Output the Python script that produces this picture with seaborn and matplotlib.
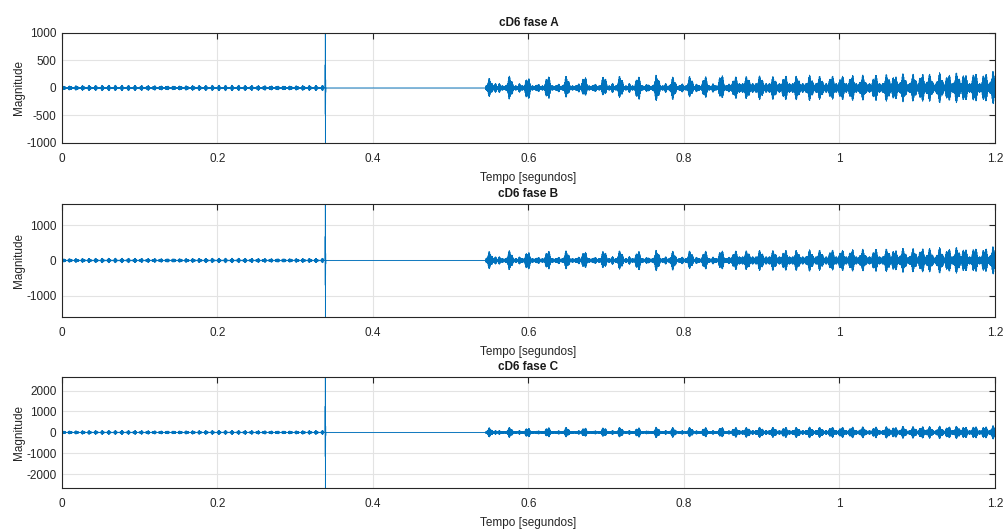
import numpy as np
import seaborn as sns
import matplotlib.pyplot as plt

# amostragem usada para redesenhar o sinal
fs = 12000
t_end = 1.2
carrier_hz = 1500
ripple_hz = 233
ripple_depth = 0.22

# regioes (segundos)
pre_end = 0.336
pre_period = 1 / 120
spike_time = 0.3385
post_start = 0.545
floor_split = 0.86

# amplitude dos pulsos antes da falta
pre_amp = {'A': 50, 'B': 65, 'C': 95}
# nivel de fundo entre os pulsos depois da falta (antes / depois de 0.86 s)
floor_early = {'A': 40, 'B': 55, 'C': 50}
floor_late = {'A': 80, 'B': 105, 'C': 90}

# amostras do transitorio em 0.3385 s
spike_A = [0, 420, -480, 1500, -1450, 380, -300, 150, -80, 0]
spike_B = [0, 680, -700, 1900, -1850, 560, -420, 200, -100, 0]
spike_C = [0, 1250, -1150, 3000, -2900, 900, -700, 300, -150, 0]

# centros dos pulsos principais depois de 0.545 s
burst_times = [0.550, 0.576, 0.599, 0.625, 0.649, 0.672, 0.697, 0.718, 0.741, 0.765,
               0.786, 0.808, 0.827, 0.848, 0.866, 0.881, 0.898, 0.915, 0.930, 0.945,
               0.962, 0.975, 0.990, 1.003, 1.016, 1.030, 1.046, 1.061, 1.071, 1.082,
               1.095, 1.106, 1.116, 1.129, 1.140, 1.151, 1.161, 1.174, 1.187, 1.198]

pos_A = [180, 225, 205, 235, 225, 225, 235, 235, 225, 250, 205, 225, 225, 265, 210, 220,
         230, 215, 235, 225, 240, 220, 235, 230, 245, 235, 250, 255, 240, 265, 255, 270,
         250, 280, 260, 285, 275, 300, 290, 310]
neg_A = [160, 215, 230, 220, 175, 160, 150, 190, 235, 245, 215, 175, 190, 215, 200, 210,
         225, 215, 230, 220, 235, 215, 225, 230, 240, 225, 245, 250, 235, 255, 245, 260,
         245, 270, 255, 275, 265, 280, 275, 290]

pos_B = [260, 290, 270, 300, 290, 280, 300, 300, 290, 310, 270, 290, 290, 320, 280, 290,
         300, 290, 310, 300, 310, 300, 320, 310, 330, 320, 340, 340, 330, 350, 345, 360,
         340, 370, 355, 380, 365, 390, 380, 400]
neg_B = [240, 280, 290, 280, 250, 240, 240, 270, 300, 310, 280, 250, 270, 290, 270, 280,
         300, 290, 300, 290, 310, 290, 300, 310, 320, 300, 330, 330, 320, 340, 330, 350,
         330, 360, 345, 370, 355, 370, 365, 390]

pos_C = [230, 250, 240, 260, 250, 245, 255, 260, 250, 270, 240, 255, 255, 275, 245, 250,
         260, 250, 265, 255, 265, 255, 270, 265, 275, 270, 280, 285, 275, 290, 285, 295,
         285, 305, 295, 310, 300, 320, 310, 330]
neg_C = [220, 245, 250, 245, 225, 215, 215, 235, 255, 265, 240, 225, 235, 250, 240, 245,
         255, 245, 260, 250, 260, 250, 260, 260, 270, 260, 275, 280, 270, 285, 280, 290,
         280, 300, 290, 305, 295, 310, 305, 320]

# largura de cada pulso (segundos)
burst_width = [0.0026] * 14 + [0.0030] * 26

# pulsos menores entre os principais
minor_times = [0.557, 0.563, 0.589, 0.612, 0.638, 0.664, 0.685, 0.708, 0.730, 0.753,
               0.776, 0.797, 0.817, 0.838, 0.857]
minor_amp = {'A': 85, 'B': 110, 'C': 95}
minor_width = 0.0020

y_limits = {'A': 1000, 'B': 1600, 'C': 2650}
y_ticks = {'A': [-1000, -500, 0, 500, 1000],
           'B': [-1000, 0, 1000],
           'C': [-2000, -1000, 0, 1000, 2000]}
x_ticks = [0, 0.2, 0.4, 0.6, 0.8, 1.0, 1.2]
x_tick_labels = ['0', '0.2', '0.4', '0.6', '0.8', '1', '1.2']


def build_signal(phase, spike, pos, neg):
    t = np.arange(0, t_end, 1 / fs)
    carrier = np.cos(2 * np.pi * carrier_hz * t) * (
        1 - ripple_depth + ripple_depth * np.cos(2 * np.pi * ripple_hz * t))
    env_pos = np.zeros_like(t)
    env_neg = np.zeros_like(t)

    # pulsos periodicos antes da falta
    for c in np.arange(0.002, pre_end, pre_period):
        w = np.exp(-0.5 * ((t - c) / 0.0016) ** 2)
        env_pos = np.maximum(env_pos, pre_amp[phase] * w)
        env_neg = np.maximum(env_neg, pre_amp[phase] * w)
    pre = t < pre_end
    env_pos[pre] = np.maximum(env_pos[pre], 8)
    env_neg[pre] = np.maximum(env_neg[pre], 8)

    # pulsos depois da falta
    post = t >= post_start
    late = t >= floor_split
    env_pos[post] = floor_early[phase]
    env_neg[post] = floor_early[phase]
    env_pos[late] = floor_late[phase]
    env_neg[late] = floor_late[phase]
    for c, p, n, bw in zip(burst_times, pos, neg, burst_width):
        w = np.exp(-0.5 * ((t - c) / bw) ** 2) * post
        env_pos = np.maximum(env_pos, p * w)
        env_neg = np.maximum(env_neg, n * w)
    for c in minor_times:
        w = np.exp(-0.5 * ((t - c) / minor_width) ** 2) * post
        env_pos = np.maximum(env_pos, minor_amp[phase] * w)
        env_neg = np.maximum(env_neg, minor_amp[phase] * w)

    y = np.where(carrier >= 0, env_pos * carrier, env_neg * carrier)
    y[(t > pre_end) & (t < post_start)] = 0
    i0 = int(round(spike_time * fs))
    y[i0:i0 + len(spike)] = spike
    return t, y


sns.set_theme(style='whitegrid')
plt.rcParams['font.family'] = ['Liberation Sans', 'DejaVu Sans']
plt.rcParams['axes.unicode_minus'] = False

fig = plt.figure(figsize=(10.08, 5.29), dpi=100)
rects = [[0.0615, 0.7297, 0.9256, 0.2080],
         [0.0615, 0.4008, 0.9256, 0.2136],
         [0.0615, 0.0775, 0.9256, 0.2100]]
spikes = {'A': spike_A, 'B': spike_B, 'C': spike_C}
posn = {'A': pos_A, 'B': pos_B, 'C': pos_C}
negn = {'A': neg_A, 'B': neg_B, 'C': neg_C}

for rect, phase in zip(rects, ['A', 'B', 'C']):
    ax = fig.add_axes(rect)
    t, y = build_signal(phase, spikes[phase], posn[phase], negn[phase])
    sns.lineplot(x=t, y=y, ax=ax, color='#0072BD', linewidth=0.65,
                 estimator=None, sort=False)
    ax.set_xlim(0, 1.2)
    ax.set_ylim(-y_limits[phase], y_limits[phase])
    ax.set_xticks(x_ticks)
    ax.set_xticklabels(x_tick_labels)
    ax.set_yticks(y_ticks[phase])
    ax.set_facecolor('white')
    ax.grid(True, color='#e3e3e3', linewidth=0.8)
    for s in ax.spines.values():
        s.set_color('#262626')
        s.set_linewidth(0.8)
    ax.tick_params(direction='in', length=4, width=0.8, colors='#262626',
                   labelsize=8.5, top=True, right=True)
    ax.tick_params(axis='x', pad=7)
    ax.tick_params(axis='y', pad=4)
    ax.set_title('cD6 fase ' + phase, fontsize=8.5, fontweight='bold',
                 color='#1a1a1a', pad=5)
    ax.set_xlabel('Tempo [segundos]', fontsize=8.5, color='#262626', labelpad=5)
    ax.set_ylabel('Magnitude', fontsize=8.5, color='#262626', labelpad=1)

fig.savefig('out.png', dpi=100)
